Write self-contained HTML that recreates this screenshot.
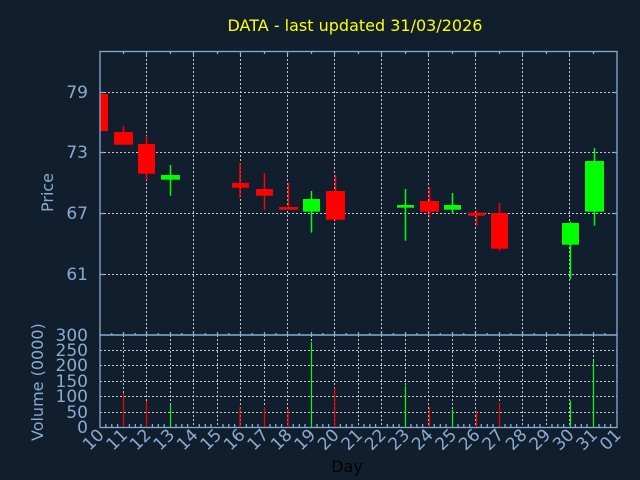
<!DOCTYPE html>
<html><head><meta charset="utf-8"><style>
html,body{margin:0;padding:0;background:#111e2e;}
svg{display:block;font-family:"DejaVu Sans","Liberation Sans",sans-serif;}
</style></head><body>
<svg width="640" height="480" viewBox="0 0 640 480" xmlns="http://www.w3.org/2000/svg">
<rect width="640" height="480" fill="#111e2e"/>
<text x="355" y="31" fill="#ffff00" font-size="16" text-anchor="middle">DATA - last updated 31/03/2026</text>
<defs><clipPath id="pc"><rect x="100" y="51" width="517" height="284"/></clipPath></defs>
<g stroke="#c8c8c8" stroke-width="1" stroke-dasharray="2,2" fill="none">
<line x1="100" y1="92.5" x2="617" y2="92.5"/>
<line x1="100" y1="152.5" x2="617" y2="152.5"/>
<line x1="100" y1="213.5" x2="617" y2="213.5"/>
<line x1="100" y1="274.5" x2="617" y2="274.5"/>
<line x1="146.5" y1="51" x2="146.5" y2="335"/>
<line x1="193.5" y1="51" x2="193.5" y2="335"/>
<line x1="240.5" y1="51" x2="240.5" y2="335"/>
<line x1="287.5" y1="51" x2="287.5" y2="335"/>
<line x1="334.5" y1="51" x2="334.5" y2="335"/>
<line x1="381.5" y1="51" x2="381.5" y2="335"/>
<line x1="428.5" y1="51" x2="428.5" y2="335"/>
<line x1="475.5" y1="51" x2="475.5" y2="335"/>
<line x1="522.5" y1="51" x2="522.5" y2="335"/>
<line x1="569.5" y1="51" x2="569.5" y2="335"/>
<line x1="100" y1="350.5" x2="617" y2="350.5"/>
<line x1="100" y1="365.5" x2="617" y2="365.5"/>
<line x1="100" y1="381.5" x2="617" y2="381.5"/>
<line x1="100" y1="396.5" x2="617" y2="396.5"/>
<line x1="100" y1="412.5" x2="617" y2="412.5"/>
<path d="M123.5 335V427M146.5 335V427M170.5 335V427M193.5 335V427M217.5 335V427M240.5 335V427M264.5 335V427M287.5 335V427M311.5 335V427M334.5 335V427M358.5 335V427M381.5 335V427M405.5 335V427M428.5 335V427M452.5 335V427M475.5 335V427M499.5 335V427M522.5 335V427M546.5 335V427M569.5 335V427M593.5 335V427"/>
</g>
<g clip-path="url(#pc)">
<rect x="91" y="94" width="17" height="37" fill="#ff0000"/>
<g stroke="#ff0000" stroke-width="1.5">
<line x1="123.5" y1="126" x2="123.5" y2="145"/>
<line x1="146.5" y1="135.7" x2="146.5" y2="179.7"/>
<line x1="240" y1="163" x2="240" y2="197.7"/>
<line x1="264.5" y1="173" x2="264.5" y2="209.7"/>
<line x1="288.5" y1="183" x2="288.5" y2="209.7"/>
<line x1="335.5" y1="175" x2="335.5" y2="220.7"/>
<line x1="429.5" y1="187" x2="429.5" y2="217.7"/>
<line x1="476.5" y1="210.7" x2="476.5" y2="225.7"/>
<line x1="499.5" y1="203" x2="499.5" y2="250.7"/>
</g>
<g stroke="#00ff00" stroke-width="1.5">
<line x1="170.5" y1="165" x2="170.5" y2="195.7"/>
<line x1="311.5" y1="191" x2="311.5" y2="232.7"/>
<line x1="405.5" y1="189" x2="405.5" y2="240.7"/>
<line x1="452.5" y1="193" x2="452.5" y2="213.7"/>
<line x1="570.5" y1="221.7" x2="570.5" y2="279.3"/>
<line x1="594.5" y1="148" x2="594.5" y2="225.7"/>
</g>
<g fill="#ff0000">
<rect x="114" y="132" width="19" height="12.7"/>
<rect x="138" y="144" width="17" height="29.7"/>
<rect x="232" y="183" width="17" height="4.7"/>
<rect x="256" y="189" width="17" height="6.7"/>
<rect x="279" y="207" width="19" height="2.7"/>
<rect x="326" y="191" width="19" height="28.7"/>
<rect x="420" y="201" width="19" height="10.7"/>
<rect x="468" y="212.7" width="17" height="3"/>
<rect x="491" y="213" width="17" height="35.7"/>
</g>
<g fill="#00ff00">
<rect x="161" y="175" width="19" height="4.7"/>
<rect x="303" y="199" width="17" height="12.7"/>
<rect x="397" y="205" width="17" height="2.7"/>
<rect x="444" y="205" width="17" height="4.7"/>
<rect x="562" y="223" width="17" height="21.7"/>
<rect x="585" y="161" width="19" height="50.7"/>
</g>
</g>
<g stroke-width="1.2">
<line x1="123.5" y1="393" x2="123.5" y2="427" stroke="#ff0000"/>
<line x1="146.5" y1="401" x2="146.5" y2="427" stroke="#ff0000"/>
<line x1="170.5" y1="405" x2="170.5" y2="427" stroke="#00ff00"/>
<line x1="240" y1="407" x2="240" y2="427" stroke="#ff0000"/>
<line x1="264.5" y1="407" x2="264.5" y2="427" stroke="#ff0000"/>
<line x1="288" y1="409" x2="288" y2="427" stroke="#ff0000"/>
<line x1="311.5" y1="342" x2="311.5" y2="427" stroke="#00ff00"/>
<line x1="334.7" y1="387.7" x2="334.7" y2="427" stroke="#ff0000"/>
<line x1="405.5" y1="385.7" x2="405.5" y2="427" stroke="#00ff00"/>
<line x1="429.5" y1="407" x2="429.5" y2="427" stroke="#ff0000"/>
<line x1="452.5" y1="409.7" x2="452.5" y2="427" stroke="#00ff00"/>
<line x1="476.5" y1="410.7" x2="476.5" y2="427" stroke="#ff0000"/>
<line x1="499.5" y1="402.7" x2="499.5" y2="427" stroke="#ff0000"/>
<line x1="570.5" y1="400.7" x2="570.5" y2="427" stroke="#00ff00"/>
<line x1="593.5" y1="361" x2="593.5" y2="427" stroke="#00ff00"/>
</g>
<g stroke="#8aaad0" stroke-width="1.3" fill="none">
<rect x="100" y="51.5" width="517" height="283.5"/>
<rect x="100" y="335" width="517" height="92.5"/>
<path d="M100 92.5h4M100 152.5h4M100 213.5h4M100 274.5h4M613 92.5h4M613 152.5h4M613 213.5h4M613 274.5h4"/>
<path d="M123.5 51v3M146.5 51v4M170.5 51v3M193.5 51v4M217.5 51v3M240.5 51v4M264.5 51v3M287.5 51v4M311.5 51v3M334.5 51v4M358.5 51v3M381.5 51v4M405.5 51v3M428.5 51v4M452.5 51v3M475.5 51v4M499.5 51v3M522.5 51v4M546.5 51v3M569.5 51v4M593.5 51v3"/>
<path d="M111.8 335v-2M123.5 335v-3M135.3 335v-2M146.5 335v-4M158.3 335v-2M170.5 335v-3M181.8 335v-2M193.5 335v-4M205.3 335v-2M217.5 335v-3M228.8 335v-2M240.5 335v-4M252.3 335v-2M264.5 335v-3M275.8 335v-2M287.5 335v-4M299.3 335v-2M311.5 335v-3M322.8 335v-2M334.5 335v-4M346.3 335v-2M358.5 335v-3M369.8 335v-2M381.5 335v-4M393.3 335v-2M405.5 335v-3M416.8 335v-2M428.5 335v-4M440.3 335v-2M452.5 335v-3M463.8 335v-2M475.5 335v-4M487.3 335v-2M499.5 335v-3M510.8 335v-2M522.5 335v-4M534.3 335v-2M546.5 335v-3M557.8 335v-2M569.5 335v-4M581.3 335v-2M593.5 335v-3M604.8 335v-2"/>
<path d="M105.8 427v-3M111.8 427v-3M117.6 427v-3M129.4 427v-3M135.3 427v-3M141 427v-3M152.4 427v-3M158.3 427v-3M164.2 427v-3M176 427v-3M181.8 427v-3M187.6 427v-3M199.3 427v-3M205.3 427v-3M211 427v-3M223 427v-3M228.8 427v-3M234.6 427v-3M246.3 427v-3M252.3 427v-3M258 427v-3M270 427v-3M275.8 427v-3M281.6 427v-3M293.3 427v-3M299.3 427v-3M305 427v-3M317 427v-3M322.8 427v-3M328.6 427v-3M340.3 427v-3M346.3 427v-3M352 427v-3M364 427v-3M369.8 427v-3M375.6 427v-3M387.3 427v-3M393.3 427v-3M399 427v-3M411 427v-3M416.8 427v-3M422.6 427v-3M434.3 427v-3M440.3 427v-3M446 427v-3M458 427v-3M463.8 427v-3M469.6 427v-3M481.3 427v-3M487.3 427v-3M493 427v-3M505 427v-3M510.8 427v-3M516.6 427v-3M528.3 427v-3M534.3 427v-3M540 427v-3M552 427v-3M557.8 427v-3M563.6 427v-3M575.3 427v-3M581.3 427v-3M587 427v-3M599 427v-3M604.8 427v-3M610.6 427v-3"/>
</g>
<g fill="#8aaad0" font-size="17" text-anchor="end">
<text x="88" y="98">79</text>
<text x="88" y="158">73</text>
<text x="88" y="219">67</text>
<text x="88" y="280">61</text>
<text x="88" y="341">300</text>
<text x="88" y="356">250</text>
<text x="88" y="371">200</text>
<text x="88" y="387">150</text>
<text x="88" y="402">100</text>
<text x="88" y="418">50</text>
<text x="88" y="433">0</text>
</g>
<g fill="#8aaad0" font-size="16">
<text transform="translate(53,212) rotate(-90)">Price</text>
<text transform="translate(43,441) rotate(-90)">Volume (0000)</text>
</g>
<g fill="#8aaad0" font-size="17" text-anchor="end">
<text transform="translate(105,436) rotate(-45)">10</text>
<text transform="translate(128.5,436) rotate(-45)">11</text>
<text transform="translate(152,436) rotate(-45)">12</text>
<text transform="translate(175.5,436) rotate(-45)">13</text>
<text transform="translate(199,436) rotate(-45)">14</text>
<text transform="translate(222.5,436) rotate(-45)">15</text>
<text transform="translate(246,436) rotate(-45)">16</text>
<text transform="translate(269.5,436) rotate(-45)">17</text>
<text transform="translate(293,436) rotate(-45)">18</text>
<text transform="translate(316.5,436) rotate(-45)">19</text>
<text transform="translate(340,436) rotate(-45)">20</text>
<text transform="translate(363.5,436) rotate(-45)">21</text>
<text transform="translate(387,436) rotate(-45)">22</text>
<text transform="translate(410.5,436) rotate(-45)">23</text>
<text transform="translate(434,436) rotate(-45)">24</text>
<text transform="translate(457.5,436) rotate(-45)">25</text>
<text transform="translate(481,436) rotate(-45)">26</text>
<text transform="translate(504.5,436) rotate(-45)">27</text>
<text transform="translate(528,436) rotate(-45)">28</text>
<text transform="translate(551.5,436) rotate(-45)">29</text>
<text transform="translate(575,436) rotate(-45)">30</text>
<text transform="translate(598.5,436) rotate(-45)">31</text>
<text transform="translate(622,436) rotate(-45)">01</text>
</g>
<text x="347" y="472" fill="#000000" font-size="16" text-anchor="middle">Day</text>
</svg>
</body></html>
